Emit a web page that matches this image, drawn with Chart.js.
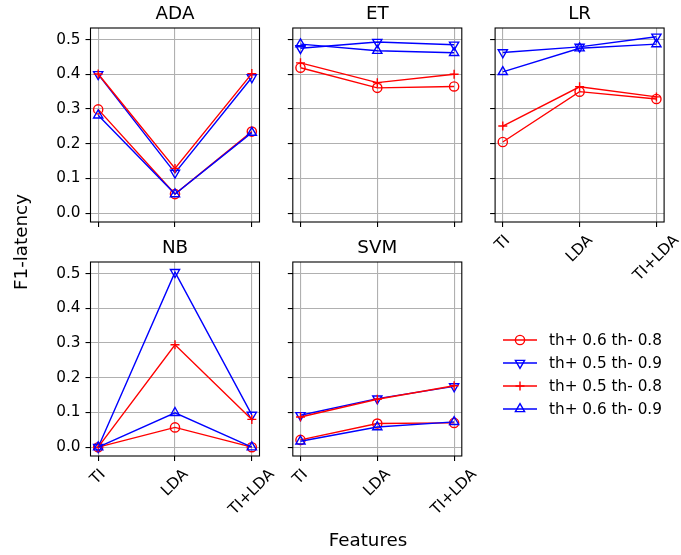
<!DOCTYPE html>
<html>
<head>
<meta charset="utf-8">
<script src="https://cdn.jsdelivr.net/npm/chart.js"></script>
<style>
  html, body { margin: 0; padding: 0; background: #fff; }
  #wrap { position: relative; width: 681px; height: 555px; }
  #wrap canvas { position: absolute; left: 0; top: 0; }
</style>
</head>
<body>
<div id="wrap">
  <canvas id="ADA" width="681" height="555"></canvas>
  <canvas id="ET" width="681" height="555"></canvas>
  <canvas id="LR" width="681" height="555"></canvas>
  <canvas id="NB" width="681" height="555"></canvas>
  <canvas id="SVM" width="681" height="555"></canvas>
</div>
<script>
// Feature sets on the x axis
const features = ["TI", "LDA", "TI+LDA"]
const yTicks = [0.0, 0.1, 0.2, 0.3, 0.4, 0.5]

// Threshold settings (one line per setting in every panel)
const seriesLabels = ["th+ 0.6 th- 0.8", "th+ 0.5 th- 0.9", "th+ 0.5 th- 0.8", "th+ 0.6 th- 0.9"]

// F1-latency per classifier, order: TI, LDA, TI+LDA
const adaTh06_08 = [0.299, 0.055, 0.235]
const adaTh05_09 = [0.400, 0.116, 0.391]
const adaTh05_08 = [0.401, 0.129, 0.402]
const adaTh06_09 = [0.282, 0.055, 0.232]

const etTh06_08 = [0.419, 0.361, 0.365]
const etTh05_09 = [0.475, 0.493, 0.485]
const etTh05_08 = [0.433, 0.376, 0.400]
const etTh06_09 = [0.487, 0.468, 0.462]

const lrTh06_08 = [0.205, 0.350, 0.329]
const lrTh05_09 = [0.463, 0.479, 0.508]
const lrTh05_08 = [0.251, 0.364, 0.335]
const lrTh06_09 = [0.407, 0.475, 0.487]

const nbTh06_08 = [0.0, 0.057, 0.0]
const nbTh05_09 = [0.0, 0.504, 0.093]
const nbTh05_08 = [0.0, 0.295, 0.080]
const nbTh06_09 = [0.0, 0.099, 0.0]

const svmTh06_08 = [0.021, 0.068, 0.070]
const svmTh05_09 = [0.092, 0.140, 0.175]
const svmTh05_08 = [0.087, 0.138, 0.177]
const svmTh06_09 = [0.017, 0.058, 0.073]

// Marker/line style for each setting
const lineColors = ["#ff0000", "#0000ff", "#ff0000", "#0000ff"]
const markers = [
  { pointStyle: "circle", rotation: 0, radius: 4.6 },
  { pointStyle: "triangle", rotation: 180, radius: 5.3 },
  { pointStyle: "cross", rotation: 0, radius: 4.5 },
  { pointStyle: "triangle", rotation: 0, radius: 5.3 },
]

const FONT = "'DejaVu Sans', sans-serif"
const TICK_SIZE = 15.3
const LABEL_SIZE = 18.3
const LINE_W = 1.4

Chart.defaults.font.family = FONT
Chart.defaults.font.size = TICK_SIZE
Chart.defaults.color = "#000"

// Plot boxes (left, top, width, height)
const colLeft = [90.5, 292.8, 495.1]
const rowTop = [28, 262]
const boxW = 169
const boxH = 194
// room kept for the y tick labels, left of each plot box
const Y_AXIS_W = 60

function buildDatasets(series) {
  return series.map((values, i) => ({
    label: seriesLabels[i],
    data: values.map((v, j) => ({ x: j, y: v })),
    borderColor: lineColors[i],
    backgroundColor: "rgba(0,0,0,0)",
    pointBackgroundColor: "rgba(0,0,0,0)",
    pointBorderColor: lineColors[i],
    pointBorderWidth: LINE_W,
    borderWidth: LINE_W,
    pointStyle: markers[i].pointStyle,
    pointRotation: markers[i].rotation,
    pointRadius: markers[i].radius,
    tension: 0,
    order: 3 - i,
  }))
}

// Frame, title and rotated tick labels for one panel
function panelDecor(title, showX) {
  return {
    id: "panelDecor",
    afterDraw(chart) {
      const ctx = chart.ctx
      const a = chart.chartArea
      ctx.save()
      ctx.strokeStyle = "#000"
      ctx.lineWidth = 1.1
      ctx.strokeRect(a.left, a.top, a.right - a.left, a.bottom - a.top)

      ctx.fillStyle = "#000"
      ctx.font = `${LABEL_SIZE}px ${FONT}`
      ctx.textAlign = "center"
      ctx.textBaseline = "alphabetic"
      ctx.fillText(title, (a.left + a.right) / 2, a.top - 9)

      if (showX) {
        ctx.font = `${TICK_SIZE}px ${FONT}`
        const xs = chart.scales.x
        features.forEach((t, j) => {
          const w = ctx.measureText(t).width
          const h = TICK_SIZE * 1.17
          const d = (w + h) / Math.SQRT2
          const cx = xs.getPixelForValue(j)
          const cy = a.bottom + 9.8 + d / 2
          ctx.save()
          ctx.translate(cx, cy)
          ctx.rotate(-Math.PI / 4)
          ctx.textAlign = "center"
          ctx.textBaseline = "middle"
          ctx.fillText(t, 0, 0)
          ctx.restore()
        })
      }
      ctx.restore()
    },
  }
}

// Shared axis titles and the legend in the empty grid cell
const figureDecor = {
  id: "figureDecor",
  afterDraw(chart) {
    const ctx = chart.ctx
    ctx.save()
    ctx.fillStyle = "#000"
    ctx.font = `${LABEL_SIZE}px ${FONT}`
    ctx.textAlign = "center"
    ctx.textBaseline = "alphabetic"
    ctx.fillText("Features", 368, 546)

    ctx.translate(27, 242)
    ctx.rotate(-Math.PI / 2)
    ctx.fillText("F1-latency", 0, 0)
    ctx.restore()

    ctx.save()
    ctx.font = `${TICK_SIZE}px ${FONT}`
    ctx.textAlign = "left"
    ctx.textBaseline = "middle"
    seriesLabels.forEach((lbl, i) => {
      const y = 340 + i * 23
      ctx.strokeStyle = lineColors[i]
      ctx.fillStyle = "rgba(0,0,0,0)"
      ctx.lineWidth = LINE_W
      ctx.beginPath()
      ctx.moveTo(503, y)
      ctx.lineTo(537, y)
      ctx.stroke()
      Chart.helpers.drawPoint(ctx, {
        pointStyle: markers[i].pointStyle,
        rotation: markers[i].rotation,
        radius: markers[i].radius,
        borderWidth: LINE_W,
      }, 520, y)
      ctx.fillStyle = "#000"
      ctx.fillText(lbl, 549, y + 1)
    })
    ctx.restore()
  },
}

function makePanel(id, series, col, row, showY, showX, extraPlugins) {
  const left = colLeft[col]
  const top = rowTop[row]
  const gridStyle = {
    color: "#b0b0b0",
    lineWidth: 1.1,
    tickColor: "#000",
    tickLength: 5,
    tickWidth: 1.1,
  }
  return new Chart(document.getElementById(id), {
    type: "line",
    data: { datasets: buildDatasets(series) },
    options: {
      responsive: false,
      animation: false,
      events: [],
      layout: {
        padding: { left: left - Y_AXIS_W, top: top, right: 681 - left - boxW, bottom: 555 - top - boxH },
      },
      plugins: {
        legend: { display: false },
        tooltip: { enabled: false },
      },
      scales: {
        x: {
          type: "linear",
          min: -0.1,
          max: 2.1,
          afterBuildTicks: (s) => { s.ticks = [0, 1, 2].map((v) => ({ value: v })) },
          afterFit: (s) => { s.height = 0 },
          grid: gridStyle,
          border: { display: false },
          ticks: { display: false },
        },
        y: {
          type: "linear",
          min: -0.0254,
          max: 0.5334,
          afterBuildTicks: (s) => { s.ticks = yTicks.map((v) => ({ value: v })) },
          afterFit: (s) => { s.width = Y_AXIS_W },
          grid: gridStyle,
          border: { display: false },
          ticks: {
            display: showY,
            padding: 5,
            color: "#000",
            font: { size: TICK_SIZE },
            callback: (v) => Number(v).toFixed(1),
          },
        },
      },
    },
    plugins: [panelDecor(id, showX)].concat(extraPlugins || []),
  })
}

makePanel("ADA", [adaTh06_08, adaTh05_09, adaTh05_08, adaTh06_09], 0, 0, true, false)
makePanel("ET", [etTh06_08, etTh05_09, etTh05_08, etTh06_09], 1, 0, false, false)
makePanel("LR", [lrTh06_08, lrTh05_09, lrTh05_08, lrTh06_09], 2, 0, false, true)
makePanel("NB", [nbTh06_08, nbTh05_09, nbTh05_08, nbTh06_09], 0, 1, true, true)
makePanel("SVM", [svmTh06_08, svmTh05_09, svmTh05_08, svmTh06_09], 1, 1, false, true, [figureDecor])
</script>
</body>
</html>
